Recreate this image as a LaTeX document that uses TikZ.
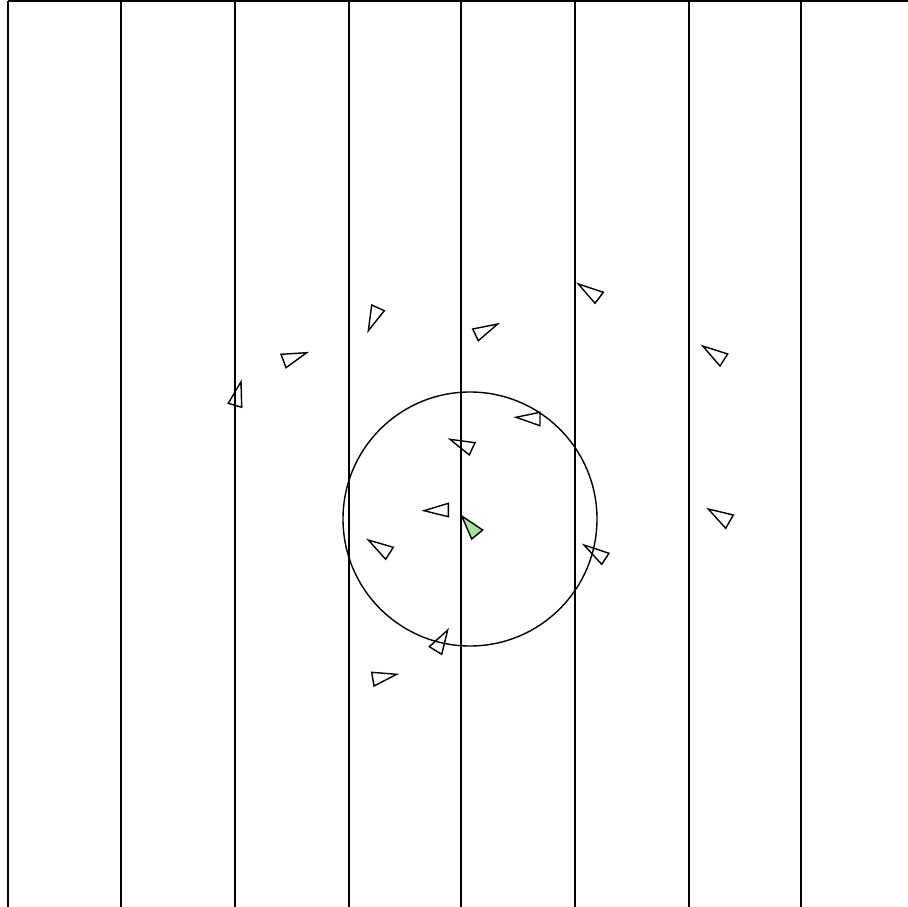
\documentclass[tikz,border=0pt]{standalone}
\begin{document}
\begin{tikzpicture}[x=1pt,y=-1pt,line width=1.4pt,
  tri/.style={draw=black,fill=white,line join=miter,line width=1.4pt},
  me/.style={draw=black,fill={rgb,255:red,168;green,224;blue,160},line join=miter,line width=1.4pt}]
\useasboundingbox (0,0) rectangle (908,907);
% triangles (drawn first; the lines pass over them)
\draw[tri] (371.7,305) -- (384.3,310.7) -- (368.3,330.7) -- cycle;
\draw[tri] (281,354.3) -- (306.7,352.7) -- (286,367.7) -- cycle;
\draw[tri] (241,381.7) -- (228.3,403.3) -- (241.7,407.3) -- cycle;
\draw[tri] (472.7,329) -- (497.7,324) -- (478.3,340.7) -- cycle;
\draw[tri] (578.3,284) -- (603.3,292.3) -- (595,303.3) -- cycle;
\draw[tri] (702.7,346) -- (727.7,354) -- (720,366) -- cycle;
\draw[tri] (516,417.3) -- (540,412.3) -- (540,425.7) -- cycle;
\draw[tri] (450,439.3) -- (475,442.7) -- (469.3,455) -- cycle;
\draw[tri] (424,510.7) -- (448.3,503.3) -- (448.3,516.7) -- cycle;
\draw[me] (461.7,516) -- (482.7,530) -- (471.7,539) -- cycle;
\draw[tri] (368.3,540) -- (393.3,547.3) -- (385.7,559.3) -- cycle;
\draw[tri] (584,545) -- (609,553.3) -- (601.7,564.3) -- cycle;
\draw[tri] (708.3,509) -- (733.3,515) -- (725.7,528.3) -- cycle;
\draw[tri] (447.7,630) -- (429.3,646.7) -- (441.7,654.3) -- cycle;
\draw[tri] (371.7,672.3) -- (396.7,674.3) -- (374,686) -- cycle;
% top border
\draw (8,1) -- (908,1);
% vertical lines
\foreach \x in {8,121,235,349,461,575,689,801} {
  \draw (\x,1) -- (\x,907);
}
% circle
\draw (470,519) circle[radius=127];
\end{tikzpicture}
\end{document}
